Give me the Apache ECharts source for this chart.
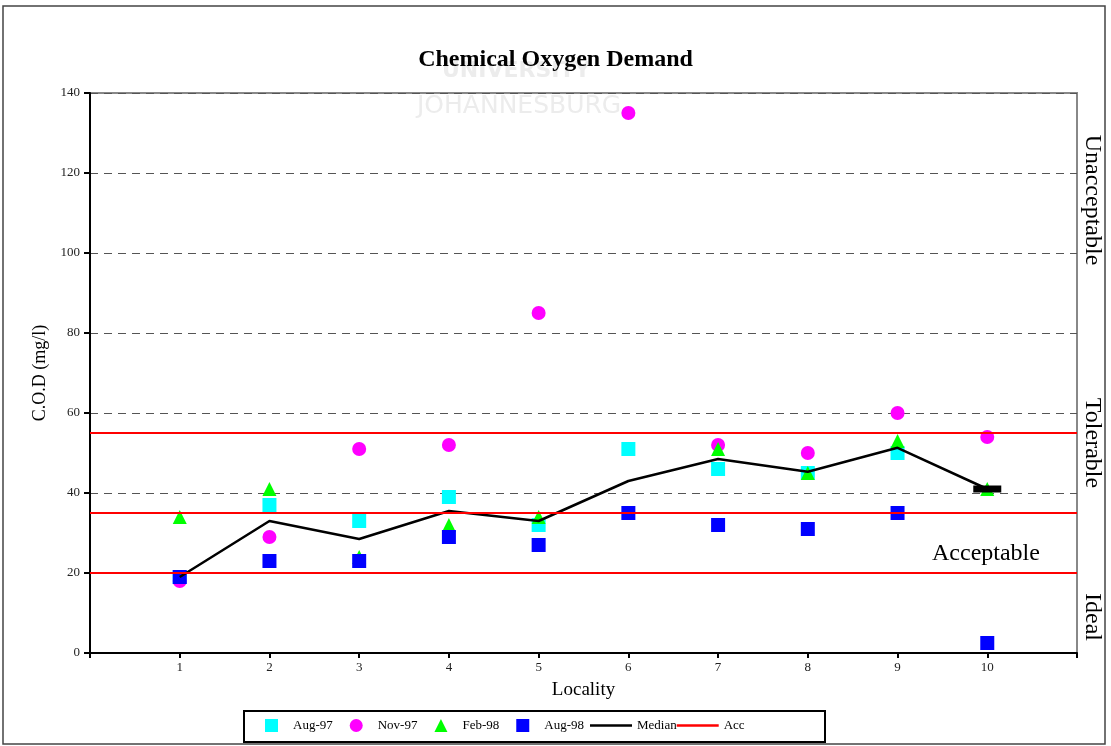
<!DOCTYPE html>
<html>
<head>
<meta charset="utf-8">
<title>Chemical Oxygen Demand</title>
<script src="https://cdn.jsdelivr.net/npm/echarts@6/dist/echarts.min.js"></script>
<style>
  html, body { margin: 0; padding: 0; background: #fff; }
  #main { width: 1111px; height: 746px; }
</style>
</head>
<body>
<div id="main"></div>
<script>
"use strict";

// localities along the x axis
const localities = [1, 2, 3, 4, 5, 6, 7, 8, 9, 10];

// COD readings (mg/l) per sampling round
const aug97 = [19, 37, 33, 39, 32, 51, 46, 45, 50, null];
const nov97 = [18, 29, 51, 52, 85, 135, 52, 50, 60, 54];
const feb98 = [34, 41, 24, 32, 34, null, 51, 45, 53, 41];
const aug98 = [19, 23, 23, 29, 27, 35, 32, 31, 35, 2.5];
const median = [19, 33, 28.5, 35.5, 33, 43, 48.5, 45.3, 51.3, 41];

// class limits (red lines)
const accLimits = [20, 35, 55];

const serif = '"Liberation Serif", "Times New Roman", serif';
const lineIcon = 'path://M0,0H42V2.5H0Z';

function pairs(values) {
  return localities.map((x, i) => [x, values[i]]);
}

let myChart = echarts.init(document.getElementById('main'));

let option = {
  animation: false,
  backgroundColor: '#fff',
  title: {
    text: 'Chemical Oxygen Demand',
    left: 'center',
    top: 43,
    textStyle: { fontFamily: serif, fontSize: 24, fontWeight: 'bold', color: '#000' },
  },
  grid: {
    left: 90,
    right: 34,
    top: 93,
    bottom: 93,
    show: true,
    borderColor: '#888',
    borderWidth: 2,
  },
  legend: [
    { // scatter symbols
      left: 265,
      top: 719,
      padding: 0,
      itemWidth: 13,
      itemHeight: 13,
      itemGap: 17,
      textStyle: { fontFamily: serif, fontSize: 13, color: '#000', padding: [0, 0, 0, 10] },
      data: ['Aug-97', 'Nov-97', 'Feb-98', 'Aug-98'],
    },
    { // lines
      left: 590,
      top: 719,
      padding: 0,
      itemWidth: 42,
      itemHeight: 13,
      itemGap: 0,
      textStyle: { fontFamily: serif, fontSize: 13, color: '#000' },
      data: [
        { name: 'Median', icon: lineIcon },
        { name: 'Acc', icon: lineIcon },
      ],
    },
  ],
  xAxis: {
    type: 'value',
    min: 0,
    max: 11,
    interval: 1,
    name: 'Locality',
    nameLocation: 'middle',
    nameGap: 28,
    nameTextStyle: { fontFamily: serif, fontSize: 19, color: '#000' },
    axisLine: { lineStyle: { color: '#000', width: 2 } },
    axisTick: { length: 5, lineStyle: { color: '#000', width: 2 } },
    axisLabel: {
      margin: 8,
      fontFamily: serif,
      fontSize: 13,
      color: '#222',
      formatter: v => (localities.indexOf(v) >= 0 ? String(v) : ''),
    },
    splitLine: { show: false },
  },
  yAxis: {
    type: 'value',
    min: 0,
    max: 140,
    interval: 20,
    name: 'C.O.D (mg/l)',
    nameLocation: 'middle',
    nameGap: 41,
    nameTextStyle: { fontFamily: serif, fontSize: 18, color: '#000' },
    axisLine: { show: true, lineStyle: { color: '#000', width: 2 } },
    axisTick: { show: true, length: 6, lineStyle: { color: '#000', width: 2 } },
    axisLabel: { margin: 10, fontFamily: serif, fontSize: 13, color: '#222' },
    splitLine: { show: true, lineStyle: { color: '#555', width: 1, type: [8, 6] } },
  },
  graphic: [
    { // outer frame
      type: 'rect',
      shape: { x: 3, y: 6, width: 1102, height: 738 },
      style: { fill: 'none', stroke: '#444', lineWidth: 1.5 },
      silent: true,
    },
    { // legend frame
      type: 'rect',
      shape: { x: 244, y: 711, width: 581, height: 31 },
      style: { fill: 'none', stroke: '#000', lineWidth: 2 },
      silent: true,
    },
    { // watermark
      type: 'text', left: 442, top: 60, z: -10,
      style: { text: 'UNIVERSITY', font: 'bold 22px "DejaVu Sans"', fill: '#ececec' },
    },
    {
      type: 'text', left: 417, top: 94, z: -10,
      style: { text: 'JOHANNESBURG', font: '25px "DejaVu Sans"', fill: '#ececec' },
    },
    { // class labels
      type: 'text', rotation: -Math.PI / 2, position: [1092, 200],
      style: { text: 'Unacceptable', font: '24px "Liberation Serif"', fill: '#000', align: 'center', verticalAlign: 'middle' },
    },
    {
      type: 'text', rotation: -Math.PI / 2, position: [1092, 443],
      style: { text: 'Tolerable', font: '24px "Liberation Serif"', fill: '#000', align: 'center', verticalAlign: 'middle' },
    },
    {
      type: 'text', rotation: -Math.PI / 2, position: [1092, 617],
      style: { text: 'Ideal', font: '24px "Liberation Serif"', fill: '#000', align: 'center', verticalAlign: 'middle' },
    },
    {
      type: 'text', left: 932, top: 542,
      style: { text: 'Acceptable', font: '24px "Liberation Serif"', fill: '#000' },
    },
  ],
  series: [
    {
      name: 'Aug-97',
      type: 'scatter',
      symbol: 'rect',
      symbolSize: 14,
      itemStyle: { color: '#00FFFF', opacity: 1 },
      data: pairs(aug97),
      z: 3,
    },
    {
      name: 'Nov-97',
      type: 'scatter',
      symbol: 'circle',
      symbolSize: 14,
      itemStyle: { color: '#FF00FF', opacity: 1 },
      data: pairs(nov97),
      z: 3,
    },
    {
      name: 'Feb-98',
      type: 'scatter',
      symbol: 'triangle',
      symbolSize: 14,
      itemStyle: { color: '#00FF00', opacity: 1 },
      data: pairs(feb98),
      z: 3,
    },
    {
      name: 'Aug-98',
      type: 'scatter',
      symbol: 'rect',
      symbolSize: 14,
      itemStyle: { color: '#0000FF', opacity: 1 },
      data: pairs(aug98),
      z: 3,
    },
    {
      name: 'Median',
      type: 'line',
      symbol: 'none',
      itemStyle: { color: '#000' },
      lineStyle: { color: '#000', width: 2.5 },
      data: localities.map((x, i) => (i === localities.length - 1
        ? { value: [x, median[i]], symbol: 'rect', symbolSize: [28, 7] }
        : [x, median[i]])),
      z: 4,
    },
    {
      name: 'Acc',
      type: 'line',
      symbol: 'none',
      itemStyle: { color: '#FF0000' },
      lineStyle: { color: '#FF0000', width: 2 },
      data: [],
      markLine: {
        silent: true,
        symbol: 'none',
        label: { show: false },
        lineStyle: { color: '#FF0000', width: 2, type: 'solid' },
        data: accLimits.map(v => ({ yAxis: v })),
      },
      z: 2,
    },
  ],
};

myChart.setOption(option);
</script>
</body>
</html>
